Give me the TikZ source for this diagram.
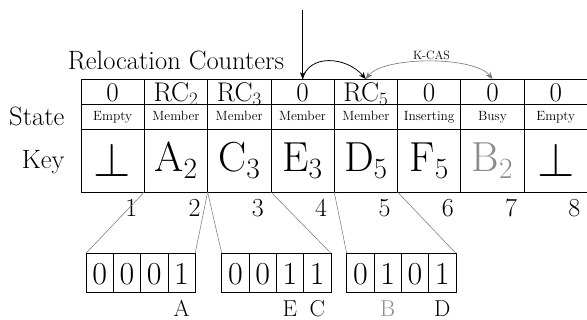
\RequirePackage{fix-cm}
\documentclass[tikz,border=0pt]{standalone}
\usetikzlibrary{arrows.meta,calc}
\begin{document}
\begin{tikzpicture}[x=1pt,y=-1pt,
  cell/.style={draw, line width=0.8pt, inner sep=0pt, outer sep=0pt, minimum width=63.3pt, anchor=north west},
  rccell/.style={cell, minimum height=25pt, font=\fontsize{27}{32}\selectfont, text height=19.5pt, text depth=0pt},
  stcell/.style={cell, minimum height=25pt, font=\fontsize{13.4}{16}\selectfont, text height=8.4pt, text depth=0pt},
  keycell/.style={cell, minimum height=63pt, font=\fontsize{42}{50}\selectfont, text height=23pt, text depth=0pt},
  perpcell/.style={cell, minimum height=63pt, font=\fontsize{48}{57}\selectfont, text height=33pt, text depth=0pt},
  bitcell/.style={draw, line width=0.7pt, inner sep=0pt, outer sep=0pt, minimum width=27.3pt, minimum height=39.4pt, anchor=north west, font=\fontsize{32}{38}\selectfont, text height=24pt, text depth=0pt},
  lab/.style={font=\fontsize{26.5}{32}\selectfont},
  idx/.style={font=\fontsize{26}{31}\selectfont, anchor=base},
  lett/.style={font=\fontsize{23}{27}\selectfont, anchor=base},
  conn/.style={draw=black!55, line width=0.5pt},
  tip/.style={line width=0.8pt},
  faded/.style={text=black!45}
]
\useasboundingbox (0,0) rectangle (587,320);

% labels
\node[lab, anchor=base] (rclab) at (176,69.5) {Relocation Counters};
\node[lab, anchor=base east] (statelab) at (68,125.7) {State};
\node[lab, anchor=base east] (keylab) at (68,168.3) {Key};

% relocation counter row
\node[rccell] (rc1) at (81,79) {0};
\node[rccell] (rc2) at (144.3,79) {RC$_2$};
\node[rccell] (rc3) at (207.6,79) {RC$_3$};
\node[rccell] (rc4) at (270.9,79) {0};
\node[rccell] (rc5) at (334.2,79) {RC$_5$};
\node[rccell] (rc6) at (397.5,79) {0};
\node[rccell] (rc7) at (460.8,79) {0};
\node[rccell] (rc8) at (524.1,79) {0};

% state row
\node[stcell] (st1) at (81,104) {Empty};
\node[stcell] (st2) at (144.3,104) {Member};
\node[stcell] (st3) at (207.6,104) {Member};
\node[stcell] (st4) at (270.9,104) {Member};
\node[stcell] (st5) at (334.2,104) {Member};
\node[stcell] (st6) at (397.5,104) {Inserting};
\node[stcell] (st7) at (460.8,104) {Busy};
\node[stcell] (st8) at (524.1,104) {Empty};

% key row
\node[perpcell] (key1) at (81,129) {$\perp$};
\node[keycell] (key2) at (144.3,129) {A$_2$};
\node[keycell] (key3) at (207.6,129) {C$_3$};
\node[keycell] (key4) at (270.9,129) {E$_3$};
\node[keycell] (key5) at (334.2,129) {D$_5$};
\node[keycell] (key6) at (397.5,129) {F$_5$};
\node[keycell, faded] (key7) at (460.8,129) {B$_2$};
\node[perpcell] (key8) at (524.1,129) {$\perp$};

% indices
\foreach \i in {1,...,8}{
  \node[idx] (idx\i) at ($(key\i.south east)+(-13,24.5)$) {\i};
}

% bitmaps
\node[bitcell] (g1a) at (86,253.3) {0};
\node[bitcell] (g1b) at (113.3,253.3) {0};
\node[bitcell] (g1c) at (140.6,253.3) {0};
\node[bitcell] (g1d) at (167.9,253.3) {1};

\node[bitcell] (g2a) at (221.7,253.3) {0};
\node[bitcell] (g2b) at (249,253.3) {0};
\node[bitcell] (g2c) at (276.3,253.3) {1};
\node[bitcell] (g2d) at (303.6,253.3) {1};

\node[bitcell] (g3a) at (346.7,253.3) {0};
\node[bitcell] (g3b) at (374,253.3) {1};
\node[bitcell] (g3c) at (401.3,253.3) {0};
\node[bitcell] (g3d) at (428.6,253.3) {1};

% bit letters
\node[lett] (la) at ($(g1d.south)+(0,24)$) {A};
\node[lett] (le) at ($(g2c.south)+(0,24)$) {E};
\node[lett] (lc) at ($(g2d.south)+(0,24)$) {C};
\node[lett, faded] (lb) at ($(g3b.south)+(0,24)$) {B};
\node[lett] (ld) at ($(g3d.south)+(0,24)$) {D};

% zoom connectors
\draw[conn] (key2.south west) -- (g1a.north west);
\draw[conn] (key2.south east) -- (g1d.north east);
\draw[conn] (key3.south west) -- (g2a.north west);
\draw[conn] (key3.south east) -- (g2d.north east);
\draw[conn] (key5.south west) -- (g3a.north west);
\draw[conn] (key5.south east) -- (g3d.north east);

% arrows
\coordinate (src) at ($(rc4.north)+(0,-69)$);
\draw[tip, -{Stealth[length=7pt,width=5.5pt]}] (src) -- (rc4.north);
\draw[tip, -{Stealth[length=7pt,width=5.5pt]}] (rc4.north) .. controls ($(rc4.north)+(6,-25)$) and ($(rc5.north)+(-20,-23)$) .. (rc5.north);
\draw[black!55, line width=0.6pt, {Stealth[length=7pt,width=5.5pt]}-{Stealth[length=7pt,width=5.5pt]}] (rc5.north) .. controls ($(rc5.north)+(18,-23)$) and ($(rc7.north)+(-18,-23)$) .. (rc7.north);
\node[font=\fontsize{12}{14}\selectfont] (kcas) at (431.5,55) {K-CAS};
\end{tikzpicture}
\end{document}
